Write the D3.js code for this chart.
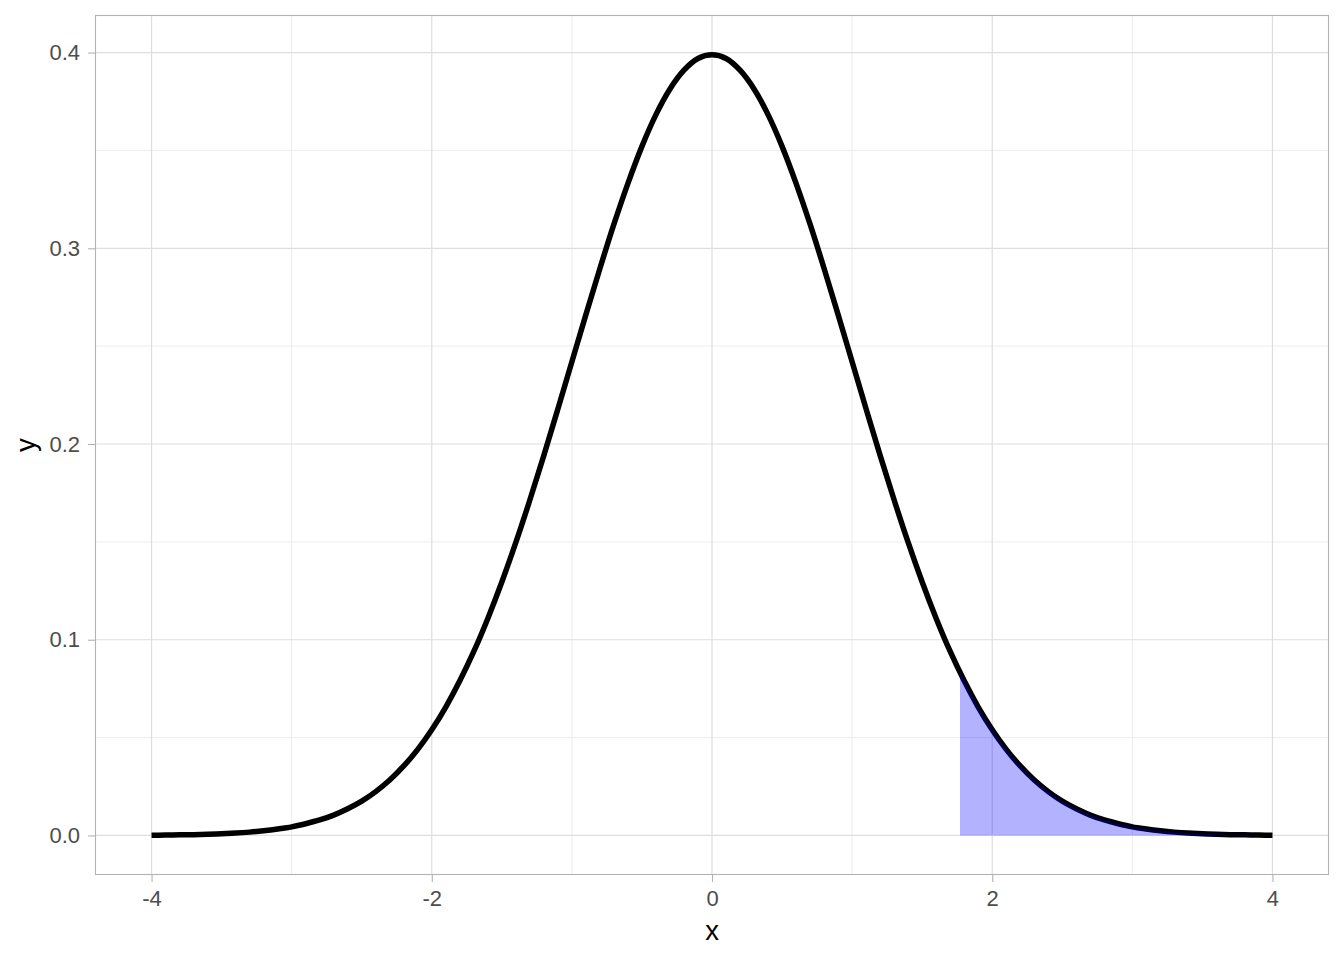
<!DOCTYPE html>
<html><head><meta charset="utf-8">
<script src="https://cdn.jsdelivr.net/npm/d3@7"></script>
<style>body{margin:0;background:#fff}svg{display:block;font-family:"Liberation Sans",Arial,sans-serif}</style>
</head><body><svg id="c" width="1344" height="960"></svg>
<script>
// Density curve points
const curveX = [-4.0,-3.9,-3.8,-3.7,-3.6,-3.5,-3.4,-3.3,-3.2,-3.1,-3.0,-2.9,-2.8,-2.7,-2.6,-2.5,-2.4,-2.3,-2.2,-2.1,-2.0,-1.9,-1.8,-1.7,-1.6,-1.5,-1.4,-1.3,-1.2,-1.1,-1.0,-0.9,-0.8,-0.7,-0.6,-0.5,-0.4,-0.3,-0.2,-0.1,0.0,0.1,0.2,0.3,0.4,0.5,0.6,0.7,0.8,0.9,1.0,1.1,1.2,1.3,1.4,1.5,1.6,1.7,1.8,1.9,2.0,2.1,2.2,2.3,2.4,2.5,2.6,2.7,2.8,2.9,3.0,3.1,3.2,3.3,3.4,3.5,3.6,3.7,3.8,3.9,4.0];
const curveY = [0.0001,0.0002,0.0003,0.0004,0.0006,0.0009,0.0012,0.0017,0.0024,0.0033,0.0044,0.0060,0.0079,0.0104,0.0136,0.0175,0.0224,0.0283,0.0355,0.0440,0.0540,0.0656,0.0790,0.0940,0.1109,0.1295,0.1497,0.1714,0.1942,0.2179,0.2420,0.2661,0.2897,0.3123,0.3332,0.3521,0.3683,0.3814,0.3910,0.3970,0.3989,0.3970,0.3910,0.3814,0.3683,0.3521,0.3332,0.3123,0.2897,0.2661,0.2420,0.2179,0.1942,0.1714,0.1497,0.1295,0.1109,0.0940,0.0790,0.0656,0.0540,0.0440,0.0355,0.0283,0.0224,0.0175,0.0136,0.0104,0.0079,0.0060,0.0044,0.0033,0.0024,0.0017,0.0012,0.0009,0.0006,0.0004,0.0003,0.0002,0.0001];
// Shaded tail
const shadeX = [1.77,1.8,1.9,2.0,2.1,2.2,2.3,2.4,2.5,2.6,2.7,2.8,2.9,3.0,3.1,3.2,3.3,3.4,3.5,3.6,3.7,3.8,3.9,4.0];
const shadeY = [0.0833,0.0790,0.0656,0.0540,0.0440,0.0355,0.0283,0.0224,0.0175,0.0136,0.0104,0.0079,0.0060,0.0044,0.0033,0.0024,0.0017,0.0012,0.0009,0.0006,0.0004,0.0003,0.0002,0.0001];
const xTicks = [-4,-2,0,2,4];
const xMinor = [-3,-1,1,3];
const yTicks = [0.0,0.1,0.2,0.3,0.4];
const yMinor = [0.05,0.15,0.25,0.35];
const xTitle = "x", yTitle = "y";

const svg = d3.select("#c");
const L=95.5, R=1328.5, T=15.5, B=874.5;
const x = d3.scaleLinear().domain([-4.4,4.4]).range([L,R]);
const y = d3.scaleLinear().domain([-0.01995,0.41895]).range([B,T]);

const g = svg.append("g");
g.selectAll(".mnx").data(xMinor).join("line").attr("x1",d=>x(d)).attr("x2",d=>x(d)).attr("y1",T).attr("y2",B).attr("stroke","#ededed").attr("stroke-width",1);
g.selectAll(".mny").data(yMinor).join("line").attr("y1",d=>y(d)).attr("y2",d=>y(d)).attr("x1",L).attr("x2",R).attr("stroke","#ededed").attr("stroke-width",1);
g.selectAll(".mjx").data(xTicks).join("line").attr("x1",d=>x(d)).attr("x2",d=>x(d)).attr("y1",T).attr("y2",B).attr("stroke","#dedede").attr("stroke-width",1.2);
g.selectAll(".mjy").data(yTicks).join("line").attr("y1",d=>y(d)).attr("y2",d=>y(d)).attr("x1",L).attr("x2",R).attr("stroke","#dedede").attr("stroke-width",1.2);

const pts = curveX.map((v,i)=>[v,curveY[i]]);
svg.append("path").datum(pts).attr("fill","none").attr("stroke","#000").attr("stroke-width",5.5).attr("stroke-linejoin","round")
  .attr("d", d3.line().x(d=>x(d[0])).y(d=>y(d[1])).curve(d3.curveMonotoneX));

const spts = shadeX.map((v,i)=>[v,shadeY[i]]);
svg.append("path").datum(spts).attr("fill","blue").attr("fill-opacity",0.3)
  .attr("d", d3.area().x(d=>x(d[0])).y0(y(0)).y1(d=>y(d[1])).curve(d3.curveMonotoneX));

svg.append("rect").attr("x",L).attr("y",T).attr("width",R-L).attr("height",B-T).attr("fill","none").attr("stroke","#b3b3b3").attr("stroke-width",1.1);

const xa = svg.append("g").attr("transform",`translate(0,${B})`)
  .call(d3.axisBottom(x).tickValues(xTicks).tickSize(7.5).tickPadding(8).tickFormat(d3.format("d")));
const ya = svg.append("g").attr("transform",`translate(${L},0)`)
  .call(d3.axisLeft(y).tickValues(yTicks).tickSize(7.5).tickPadding(8).tickFormat(d3.format(".1f")));
[xa,ya].forEach(a=>{a.select(".domain").remove();a.selectAll(".tick line").attr("stroke","#b3b3b3").attr("stroke-width",1.1);
  a.selectAll("text").attr("fill","#4d4d4d").attr("font-size",22).attr("font-family","Liberation Sans, Arial, sans-serif");});
xa.selectAll("text").text(d=>d<0?"-"+Math.abs(d):d);

svg.append("text").attr("x",(L+R)/2).attr("y",940).attr("text-anchor","middle").attr("font-size",27.5).attr("fill","#000").text(xTitle);
svg.append("text").attr("transform",`translate(35,${(T+B)/2}) rotate(-90)`).attr("text-anchor","middle").attr("font-size",27.5).attr("fill","#000").text(yTitle);
</script></body></html>
